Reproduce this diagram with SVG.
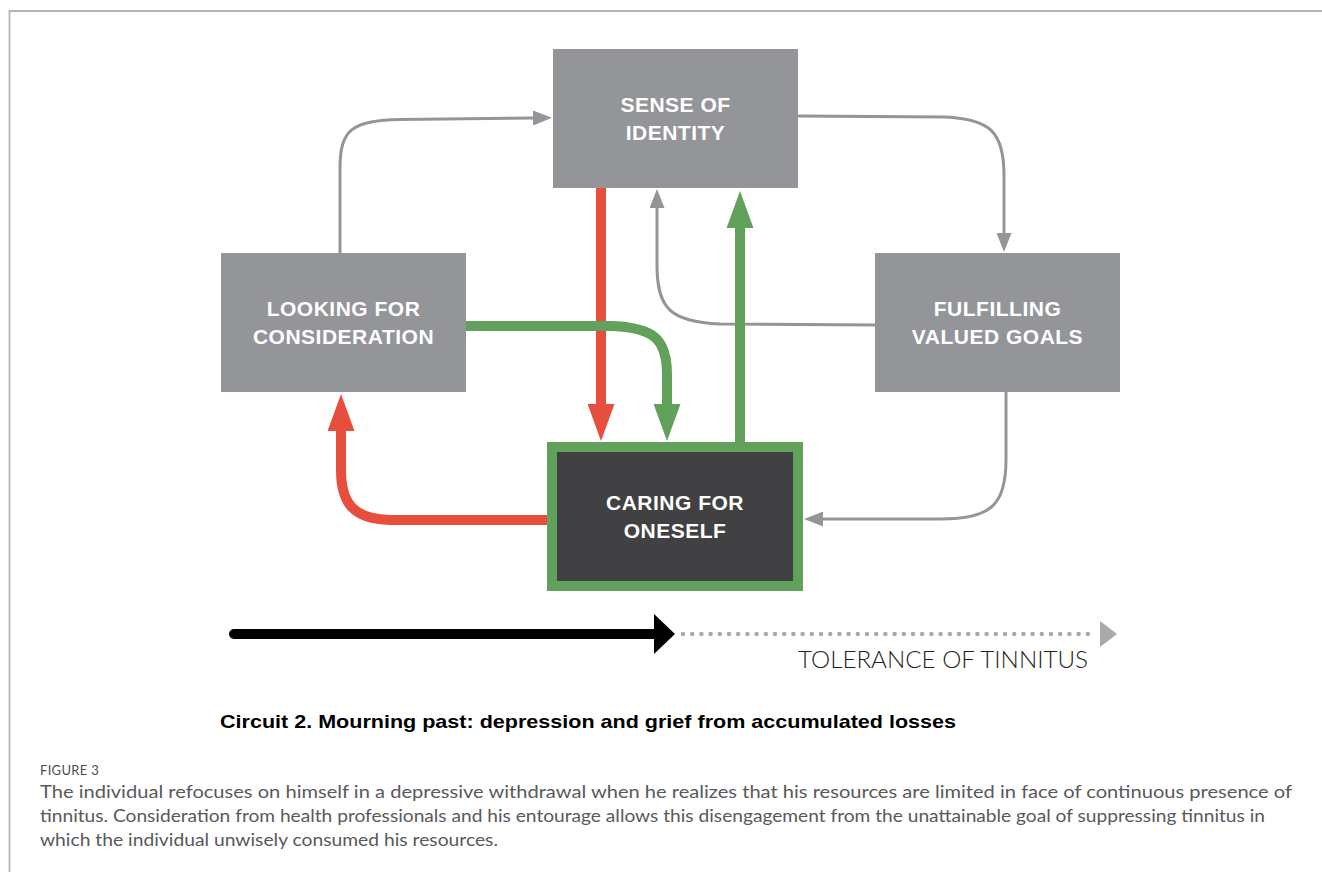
<svg xmlns="http://www.w3.org/2000/svg" width="1322" height="872" viewBox="0 0 1322 872">
  <defs>
    <style>
      .box { fill: #939598; }
      .lbl { font-family: "Liberation Sans", Arial, sans-serif; font-weight: bold; font-size: 21px; fill: #ffffff; text-anchor: middle; letter-spacing: 0.5px; }
      .gc { fill: none; stroke: #939598; stroke-width: 3; }
      .rc { fill: none; stroke: #e84e3d; stroke-width: 10; }
      .grc { fill: none; stroke: #62a15c; stroke-width: 10; }
      .cap { font-family: "Lato", "Liberation Sans", sans-serif; font-size: 17px; fill: #58595b; }
    </style>
    <marker id="ag" viewBox="0 0 19 15" refX="1" refY="7.5" markerWidth="19" markerHeight="15" markerUnits="userSpaceOnUse" orient="auto">
      <path d="M0,0 L19,7.5 L0,15 z" fill="#939598"/>
    </marker>
    <marker id="ar" viewBox="0 0 37 27" refX="1" refY="13.5" markerWidth="37" markerHeight="27" markerUnits="userSpaceOnUse" orient="auto">
      <path d="M0,0 L37,13.5 L0,27 z" fill="#e84e3d"/>
    </marker>
    <marker id="agr" viewBox="0 0 37 27" refX="1" refY="13.5" markerWidth="37" markerHeight="27" markerUnits="userSpaceOnUse" orient="auto">
      <path d="M0,0 L37,13.5 L0,27 z" fill="#62a15c"/>
    </marker>
  </defs>

  <rect x="0" y="0" width="1322" height="872" fill="#ffffff"/>
  <g id="frame">
    <path d="M9.5,872 L9.5,11 L1322,11" fill="none" stroke="#b5b5b5" stroke-width="1.8"/>
  </g>

  <g id="connectors">
    <path class="gc" d="M340,253 L340,168 C340,130 352,120 400,119.5 L534,118" marker-end="url(#ag)"/>
    <path class="gc" d="M798,116 L945,117 C990,119 1004,132 1004,175 L1004,234" marker-end="url(#ag)"/>
    <path class="gc" d="M875,325 L720,324 C670,322 657,308 657,265 L657,207" marker-end="url(#ag)"/>
    <path class="gc" d="M1006,392 L1006,460 C1006,506 990,519 940,519 L822,519" marker-end="url(#ag)"/>
    <path class="rc" d="M601,187 L601,405" marker-end="url(#ar)"/>
    <path class="grc" d="M466,326 L610,326 C655,327 667,340 667,375 L667,405" marker-end="url(#agr)"/>
    <path class="grc" d="M740,442 L740,227" marker-end="url(#agr)"/>
    <path class="rc" d="M548,520 L390,520 C355,519 341,505 341,470 L341,430" marker-end="url(#ar)"/>
  </g>

  <g id="node-identity">
    <rect class="box" x="553" y="49" width="245" height="139"/>
    <text class="lbl" x="675.5" y="112">SENSE OF</text>
    <text class="lbl" x="675.5" y="140">IDENTITY</text>
  </g>
  <g id="node-consideration">
    <rect class="box" x="221" y="253" width="245" height="139"/>
    <text class="lbl" x="343.5" y="316">LOOKING FOR</text>
    <text class="lbl" x="343.5" y="344">CONSIDERATION</text>
  </g>
  <g id="node-goals">
    <rect class="box" x="875" y="253" width="245" height="139"/>
    <text class="lbl" x="997.5" y="316">FULFILLING</text>
    <text class="lbl" x="997.5" y="344">VALUED GOALS</text>
  </g>
  <g id="node-caring">
    <rect x="552" y="447" width="246" height="139" fill="#414042" stroke="#62a15c" stroke-width="10"/>
    <text class="lbl" x="675" y="510">CARING FOR</text>
    <text class="lbl" x="675" y="538">ONESELF</text>
  </g>

  <g id="tolerance-axis">
    <line x1="234" y1="634" x2="657" y2="634" stroke="#000000" stroke-width="10" stroke-linecap="round"/>
    <polygon points="654,614 675,634 654,654" fill="#000000"/>
    <line x1="683" y1="634" x2="1096" y2="634" stroke="#a7a9ac" stroke-width="4.5" stroke-linecap="round" stroke-dasharray="0 9.2"/>
    <polygon points="1100,621 1117,634 1100,647" fill="#a7a9ac"/>
    <text x="798" y="668" font-family="Lato, 'Liberation Sans', sans-serif" font-weight="300" font-size="23" fill="#231f20" textLength="290" lengthAdjust="spacingAndGlyphs">TOLERANCE OF TINNITUS</text>
  </g>

  <text x="220" y="728" font-family="'Liberation Sans', Arial, sans-serif" font-weight="bold" font-size="19" fill="#000000" textLength="736" lengthAdjust="spacingAndGlyphs">Circuit 2. Mourning past: depression and grief from accumulated losses</text>

  <text x="40" y="775" font-family="Lato, 'Liberation Sans', sans-serif" font-size="13" fill="#4d4d4f" letter-spacing="0.3">FIGURE 3</text>
  <text class="cap" x="40" y="798" textLength="1252" lengthAdjust="spacingAndGlyphs">The individual refocuses on himself in a depressive withdrawal when he realizes that his resources are limited in face of continuous presence of</text>
  <text class="cap" x="40" y="822" textLength="1225" lengthAdjust="spacingAndGlyphs">tinnitus. Consideration from health professionals and his entourage allows this disengagement from the unattainable goal of suppressing tinnitus in</text>
  <text class="cap" x="40" y="846" textLength="458" lengthAdjust="spacingAndGlyphs">which the individual unwisely consumed his resources.</text>
</svg>
